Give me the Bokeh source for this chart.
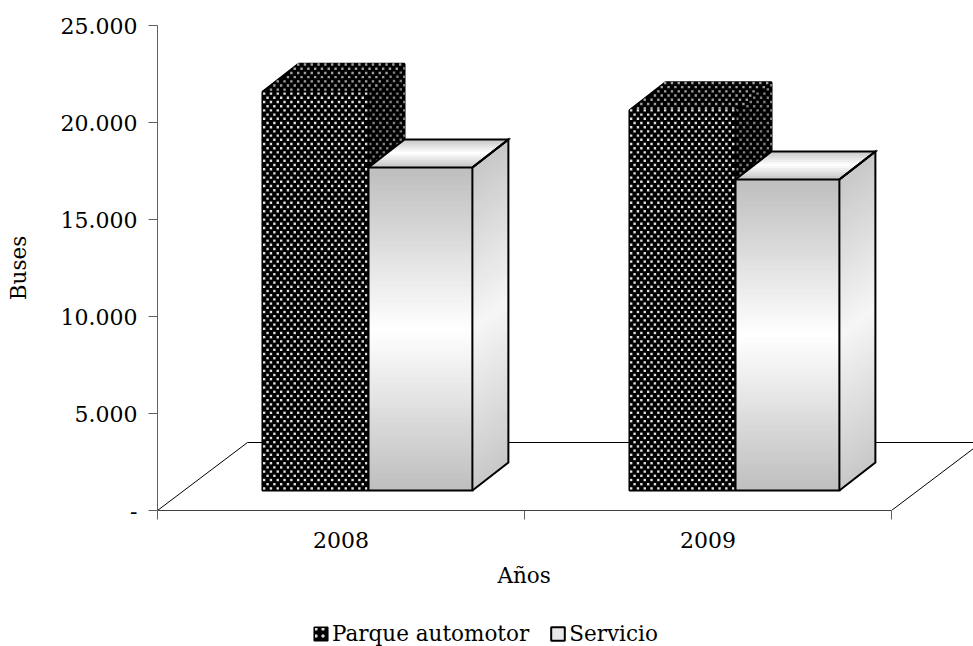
import numpy as np
from bokeh.embed import file_html
from bokeh.resources import INLINE
from bokeh.plotting import figure
from bokeh.layouts import column
from bokeh.models import Range1d, FixedTicker, Legend, LegendItem, Title

years = ["2008", "2009"]
parque = [20550, 19600]
servicio = [16650, 16030]
y_ticks = [0, 5000, 10000, 15000, 20000, 25000]
y_labels = ["-", "5.000", "10.000", "15.000", "20.000", "25.000"]
x_title = "Años"
y_title = "Buses"
series_names = ["Parque automotor", "Servicio"]
FONT = "DejaVu Serif"
TICK_SIZE = "22px"
TITLE_SIZE = "21.5px"

PX = 1 / 367.0        # one pixel in x units
PY = 5000 / 97.0      # one pixel in y units
BASE = 20 * PY        # bars stand forward on the floor
DX, DY = 36 * PX, 28 * PY
FDX, FDY = 90 * PX, 68 * PY
X0 = 0.286
BW = [0.289, 0.283]

MAIN_H = 618
LEG_H = 28

p = figure(width=973, height=MAIN_H, output_backend="svg", toolbar_location=None,
           x_range=Range1d(0, 816 * PX), y_range=Range1d(0, 25000),
           min_border_left=157, min_border_right=0, min_border_top=25,
           min_border_bottom=MAIN_H - 510)
p.outline_line_color = None
p.grid.visible = False
p.background_fill_color = "white"

# axes
xa = p.xaxis[0]
xa.bounds = (0, 2)
xa.ticker = FixedTicker(ticks=[0.5, 1.5], minor_ticks=[0, 1, 2])
xa.major_label_overrides = {0.5: years[0], 1.5: years[1]}
xa.major_tick_out = 0; xa.major_tick_in = 0
xa.minor_tick_out = 9; xa.minor_tick_in = 0
xa.minor_tick_line_color = "#606060"
xa.axis_line_color = "#404040"
xa.major_label_standoff = 12
ya = p.yaxis[0]
ya.bounds = (0, 25000)
ya.ticker = FixedTicker(ticks=y_ticks)
ya.major_label_overrides = dict(zip(y_ticks, y_labels))
ya.major_tick_out = 9; ya.major_tick_in = 0
ya.minor_tick_out = 0; ya.minor_tick_in = 0
ya.major_tick_line_color = "#606060"
ya.axis_line_color = "#606060"
ya.major_label_standoff = 11
ya.axis_label = y_title
ya.axis_label_standoff = 27
for a in (xa, ya):
    a.major_label_text_font = FONT
    a.major_label_text_font_size = TICK_SIZE
    a.major_label_text_color = "black"
    a.axis_label_text_font = FONT
    a.axis_label_text_font_size = TITLE_SIZE
    a.axis_label_text_font_style = "normal"
    a.axis_label_text_color = "black"

# floor
p.multi_line([[0, FDX, 2 + FDX], [2, 2 + FDX]], [[0, FDY, FDY], [0, FDY]],
             line_color="black", line_width=1)


def grad(t, lo, hi=255):
    v = int(round(lo + (hi - lo) * (1 - abs(2 * t - 1))))
    return "#%02x%02x%02x" % (v, v, v)


def lattice(x0, x1, y0, y1):
    sx, sy = 6.8 * PX, 4.2 * PY
    xs, ys = [], []
    for r, yy in enumerate(np.arange(y0 + sy / 2, y1, sy)):
        off = sx / 2 if r % 2 else 0
        for xx in np.arange(x0 + sx / 4 + off, x1, sx):
            xs.append(xx); ys.append(yy)
    return np.array(xs), np.array(ys)


def dark_bar(left, right, top):
    bot = BASE
    dots = dict(marker="square", size=2.4, line_color=None)
    # side + top
    xsq = [[right, right + DX, right + DX, right], [left, left + DX, right + DX, right]]
    ysq = [[bot, bot + DY, top + DY, top], [top, top + DY, top + DY, top]]
    p.patches(xsq, ysq, fill_color="black", line_color="black", line_width=2)
    xs, ys = lattice(right, right + DX, bot, top + DY)
    m = (ys - top) <= (xs - right) / DX * DY
    p.scatter(xs[m], ys[m], fill_color="#808080", **dots)
    xs, ys = lattice(left, right + DX, top, top + DY)
    m = ((xs - left) >= (ys - top) / DY * DX) & ((xs - right) <= (ys - top) / DY * DX)
    p.scatter(xs[m], ys[m], fill_color="#a0a0a0", **dots)
    # front
    p.quad(left=left, right=right, top=top, bottom=bot, fill_color="black",
           line_color="black", line_width=2)
    xs, ys = lattice(left, right, bot, top)
    p.scatter(xs, ys, fill_color="#e0e0e0", **dots)


def light_bar(left, right, top):
    bot = BASE
    N = 64
    # side
    xsq, ysq, col = [], [], []
    ed = np.linspace(0, 1, N + 1)
    for i in range(N):
        y_hi = bot + (top - bot) * ed[i + 1]
        y_lo = bot + (top - bot) * max(ed[i] - 0.01, 0)
        xsq.append([right, right + DX, right + DX, right])
        ysq.append([y_lo, y_lo + DY, y_hi + DY, y_hi])
        col.append(grad(ed[i], 200, 246))
    p.patches(xsq, ysq, fill_color=col, line_color=None)
    # top
    xsq, ysq, col = [], [], []
    n = 14
    ed2 = np.linspace(0, 1, n + 1)
    for i in range(n):
        a, b = max(ed2[i] - 0.02, 0), ed2[i + 1]
        xsq.append([left + a * DX, right + a * DX, right + b * DX, left + b * DX])
        ysq.append([top + a * DY, top + a * DY, top + b * DY, top + b * DY])
        col.append(grad(ed2[i], 196))
    p.patches(xsq, ysq, fill_color=col, line_color=None)
    # front
    tops = bot + (top - bot) * ed[1:]
    bots = bot + (top - bot) * np.maximum(ed[:-1] - 0.01, 0)
    p.quad(left=left, right=right, top=tops, bottom=bots,
           fill_color=[grad(t, 190) for t in ed[:-1]], line_color=None)
    # outlines
    p.multi_line(
        [[left, right, right, left, left],
         [right, right + DX, right + DX, right],
         [left, left + DX, right + DX, right],
         [right, right + DX]],
        [[bot, bot, top, top, bot],
         [bot, bot + DY, top + DY, top],
         [top, top + DY, top + DY, top],
         [top, top + DY]],
        line_color="black", line_width=2, line_join="miter")


d_x = [i + X0 for i in range(len(years))]
bar_tops_d = [v + BASE for v in parque]
bar_tops_l = [v + BASE for v in servicio]

for i in range(len(years)):
    dark_bar(d_x[i], d_x[i] + BW[0], bar_tops_d[i])
    light_bar(d_x[i] + BW[0], d_x[i] + BW[0] + BW[1], bar_tops_l[i])

xt = Title(text=x_title, align="left", offset=340, text_font=FONT, text_font_size=TITLE_SIZE,
           text_font_style="normal", text_color="black", standoff=20)
p.add_layout(xt, "below")

# legend strip
q = figure(width=973, height=LEG_H, output_backend="svg", toolbar_location=None,
           x_range=Range1d(0, 1), y_range=Range1d(0, 1),
           min_border_left=0, min_border_right=0, min_border_top=0, min_border_bottom=0)
q.outline_line_color = None
q.grid.visible = False
q.axis.visible = False
r_d = q.quad(left=[2], right=[3], top=[3], bottom=[2],
             fill_color="black", line_color="black", line_width=1.5,
             hatch_pattern="dot", hatch_color="#dddddd", hatch_scale=7, hatch_weight=1.5)
r_l = q.quad(left=[2], right=[3], top=[3], bottom=[2],
             fill_color="#e8e8e8", line_color="black", line_width=2)
legend = Legend(items=[LegendItem(label=series_names[0], renderers=[r_d]),
                       LegendItem(label=series_names[1], renderers=[r_l])],
                orientation="horizontal", location=(155, 0),
                background_fill_alpha=0, border_line_alpha=0,
                glyph_width=17, glyph_height=17, label_standoff=3, spacing=20,
                margin=0, padding=0,
                label_text_font=FONT, label_text_font_size=TITLE_SIZE, label_text_color="black")
q.add_layout(legend, "center")

page = column(p, q, spacing=0)
open("out.html", "w").write(file_html(page, INLINE))
